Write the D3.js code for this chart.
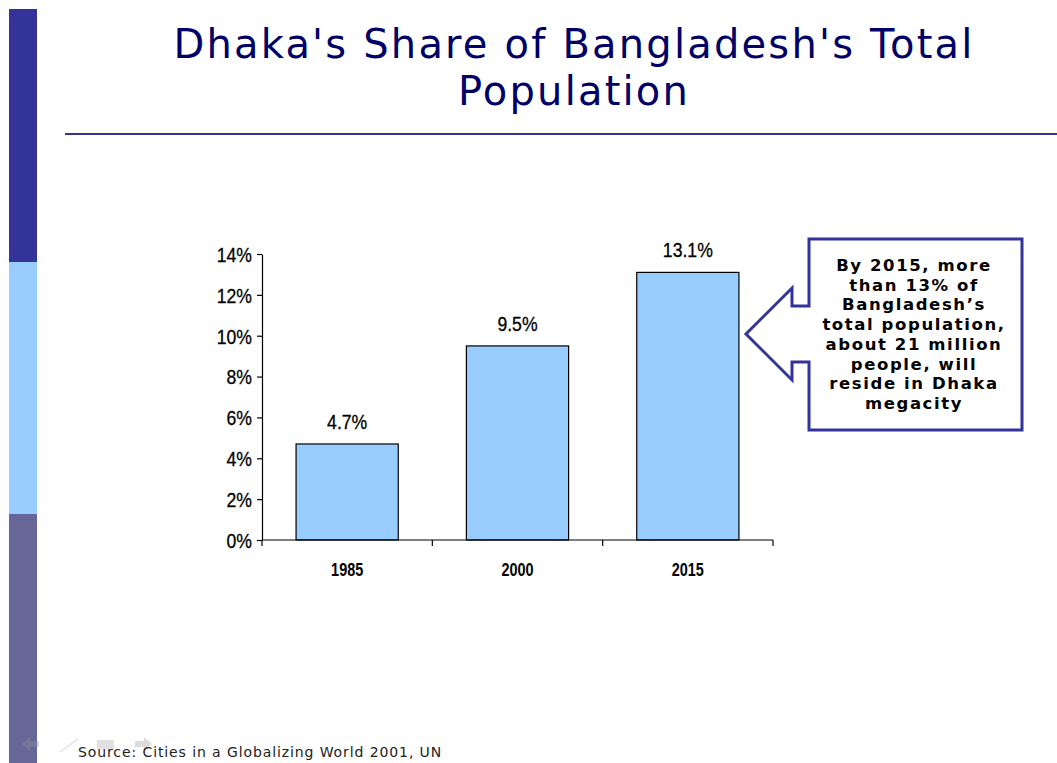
<!DOCTYPE html>
<html>
<head>
<meta charset="utf-8">
<script src="https://cdn.jsdelivr.net/npm/d3@7"></script>
<style>
  html, body { margin: 0; padding: 0; background: #fff; }
  svg { display: block; }
</style>
</head>
<body>
<script>
// Dhaka's share of Bangladesh's total population
const years = ["1985", "2000", "2015"];
const shares = [4.7, 9.5, 13.1];
const yTicks = [0, 2, 4, 6, 8, 10, 12, 14];
const titleLines = ["Dhaka's Share of Bangladesh's Total", "Population"];
const calloutLines = ["By 2015, more", "than 13% of", "Bangladesh\u2019s", "total population,",
                      "about 21 million", "people, will", "reside in Dhaka", "megacity"];
const sourceText = "Source: Cities in a Globalizing World 2001, UN";

const W = 1057, H = 763;
const svg = d3.select("body").append("svg").attr("width", W).attr("height", H);

// Left decorative band
const band = [
  { y0: 9, y1: 262, c: "#333399" },
  { y0: 262, y1: 514, c: "#99ccff" },
  { y0: 514, y1: 763, c: "#666699" }
];
svg.selectAll("rect.band").data(band).enter().append("rect")
  .attr("x", 9).attr("width", 28)
  .attr("y", d => d.y0).attr("height", d => d.y1 - d.y0)
  .attr("fill", d => d.c);

// Title
svg.append("text")
  .attr("text-anchor", "middle")
  .attr("font-family", "Verdana, 'DejaVu Sans', sans-serif")
  .attr("font-size", 40)
  .attr("letter-spacing", 2.2)
  .attr("fill", "#000066")
  .selectAll("tspan").data(titleLines).enter().append("tspan")
  .attr("x", 574).attr("y", (d, i) => 58 + i * 47)
  .text(d => d);

svg.append("line")
  .attr("x1", 65).attr("x2", W).attr("y1", 134).attr("y2", 134)
  .attr("stroke", "#333399").attr("stroke-width", 2);

// Chart area
const plotL = 262, plotR = 773, plotT = 254, plotB = 540;
const x = d3.scaleBand().domain(years).range([plotL, plotR]).paddingInner(0.4).paddingOuter(0.2);
const y = d3.scaleLinear().domain([0, 14]).range([plotB, plotT]);
const narrow = "'Liberation Sans Narrow', 'Arial Narrow', 'Liberation Sans', Arial, sans-serif";
const squeeze = 0.84;

const g = svg.append("g");
g.selectAll("rect.bar").data(shares).enter().append("rect")
  .attr("x", (d, i) => x(years[i]))
  .attr("width", x.bandwidth())
  .attr("y", d => y(d))
  .attr("height", d => y(0) - y(d))
  .attr("fill", "#99ccff").attr("stroke", "#000").attr("stroke-width", 1.2);

g.selectAll("text.val").data(shares).enter().append("text")
  .attr("transform", (d, i) =>
    `translate(${x(years[i]) + x.bandwidth() / 2},${y(d) - 15}) scale(${squeeze},1)`)
  .attr("text-anchor", "middle")
  .attr("font-family", narrow).attr("font-size", 21)
  .attr("fill", "#000").attr("stroke", "#000").attr("stroke-width", 0.3)
  .text(d => d.toFixed(1) + "%");

// Y axis
const yAxis = d3.axisLeft(y).tickValues(yTicks).tickSize(5).tickSizeOuter(0)
  .tickFormat(d => d + "%");
const ya = svg.append("g").attr("transform", `translate(${plotL},0)`).call(yAxis);
ya.select(".domain").attr("stroke", "#000").attr("stroke-width", 1.2);
ya.selectAll(".tick line").attr("stroke", "#000").attr("stroke-width", 1.2);
ya.selectAll(".tick text").attr("font-family", narrow).attr("font-size", 21)
  .attr("fill", "#000").attr("stroke", "#000").attr("stroke-width", 0.3)
  .attr("x", -10 / squeeze).attr("dy", "0.35em")
  .attr("transform", `scale(${squeeze},1)`);

// X axis with ticks at category boundaries
const xa = svg.append("g").attr("transform", `translate(0,${plotB})`);
xa.append("line").attr("x1", plotL).attr("x2", plotR).attr("stroke", "#000").attr("stroke-width", 1.2);
const bounds = d3.range(years.length + 1).map(i => plotL + i * (plotR - plotL) / years.length);
xa.selectAll("line.tk").data(bounds).enter().append("line")
  .attr("x1", d => d).attr("x2", d => d).attr("y1", 0).attr("y2", 6)
  .attr("stroke", "#000").attr("stroke-width", 1.2);
xa.selectAll("text").data(years).enter().append("text")
  .attr("transform", d => `translate(${x(d) + x.bandwidth() / 2},36) scale(0.76,1)`)
  .attr("text-anchor", "middle")
  .attr("font-family", narrow).attr("font-size", 19).attr("font-weight", "bold")
  .attr("fill", "#000")
  .text(d => d);

// Callout box with arrow pointing at the 2015 bar
const bx0 = 809, bx1 = 1022, by0 = 239, by1 = 430;
const callout = [
  [bx0, by0], [bx1, by0], [bx1, by1], [bx0, by1],
  [bx0, 362], [792, 362], [792, 380], [746, 334],
  [792, 288], [792, 306], [bx0, 306]
];
svg.append("path")
  .attr("d", d3.line()(callout) + "Z")
  .attr("fill", "#fff").attr("stroke", "#333399").attr("stroke-width", 3)
  .attr("stroke-linejoin", "miter");

svg.append("text")
  .attr("text-anchor", "middle")
  .attr("font-family", "Verdana, 'DejaVu Sans', sans-serif")
  .attr("font-size", 16.5).attr("font-weight", "bold").attr("fill", "#000")
  .attr("letter-spacing", 1.6)
  .selectAll("tspan").data(calloutLines).enter().append("tspan")
  .attr("x", 914).attr("y", (d, i) => 271 + i * 19.7)
  .text(d => d);

// Faint slide navigation glyphs
const nav = svg.append("g").attr("opacity", 0.35);
nav.append("path").attr("d", "M22,744 L30,737 L30,741 L39,741 L39,747 L30,747 L30,751 Z").attr("fill", "#999");
nav.append("line").attr("x1", 60).attr("y1", 752).attr("x2", 78).attr("y2", 739).attr("stroke", "#aaa").attr("stroke-width", 1.5);
nav.append("rect").attr("x", 97).attr("y", 740).attr("width", 17).attr("height", 9).attr("fill", "#aaa");
nav.append("path").attr("d", "M152,744 L144,737 L144,741 L135,741 L135,747 L144,747 L144,751 Z").attr("fill", "#999");

// Source line
svg.append("text")
  .attr("x", 78).attr("y", 757)
  .attr("font-family", "Verdana, 'DejaVu Sans', sans-serif")
  .attr("font-size", 14).attr("letter-spacing", 0.9).attr("fill", "#222")
  .text(sourceText);
</script>
</body>
</html>
